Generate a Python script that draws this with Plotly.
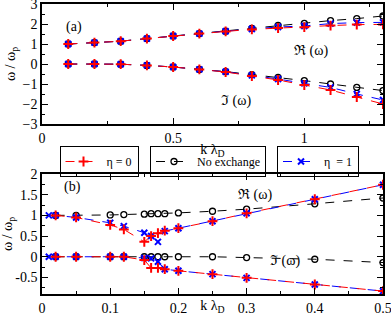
import plotly.graph_objects as go
from plotly.subplots import make_subplots

# ---------- Panel (a) data ----------
k_a = [0.1, 0.2, 0.3, 0.4, 0.5, 0.6, 0.7, 0.8, 0.9, 1.0, 1.1, 1.2, 1.3]
re_eta0_a = [1.0, 1.07, 1.14, 1.27, 1.4, 1.52, 1.63, 1.73, 1.8, 1.84, 1.92, 1.97, 1.98]
im_eta0_a = [0.0, 0.0, -0.01, -0.07, -0.15, -0.27, -0.4, -0.6, -0.8, -1.05, -1.3, -1.65, -2.0]
re_noex_a = [1.0, 1.07, 1.14, 1.27, 1.4, 1.52, 1.64, 1.78, 1.93, 2.03, 2.17, 2.27, 2.4]
im_noex_a = [0.0, 0.0, -0.01, -0.07, -0.15, -0.27, -0.38, -0.53, -0.67, -0.83, -1.0, -1.17, -1.33]
re_eta1_a = [1.0, 1.07, 1.14, 1.27, 1.4, 1.52, 1.64, 1.75, 1.85, 1.9, 2.02, 2.07, 2.08]
im_eta1_a = [0.0, 0.0, -0.01, -0.07, -0.15, -0.27, -0.39, -0.57, -0.75, -0.97, -1.17, -1.5, -1.8]

# ---------- Panel (b) data ----------
k_eta0_b = [0.02, 0.05, 0.1, 0.12, 0.15, 0.16, 0.17, 0.18, 0.2, 0.25, 0.3, 0.4, 0.5]
re_eta0_b = [1.0, 0.95, 0.77, 0.66, 0.36, 0.5, 0.57, 0.63, 0.69, 0.86, 1.05, 1.39, 1.74]
im_eta0_b = [0.0, 0.0, 0.0, 0.0, -0.08, -0.27, -0.27, -0.3, -0.34, -0.42, -0.51, -0.67, -0.83]
k_eta1_b = [0.01, 0.02, 0.05, 0.1, 0.12, 0.15, 0.16, 0.17, 0.18, 0.2, 0.25, 0.3, 0.4, 0.5]
re_eta1_b = [1.0, 1.0, 0.95, 0.82, 0.74, 0.58, 0.5, 0.36, 0.62, 0.69, 0.86, 1.05, 1.39, 1.74]
im_eta1_b = [0.0, 0.0, 0.0, 0.0, 0.0, -0.03, -0.04, -0.12, -0.3, -0.34, -0.42, -0.51, -0.67, -0.83]
k_noex_b = [0.02, 0.05, 0.1, 0.12, 0.15, 0.16, 0.17, 0.18, 0.2, 0.25, 0.3, 0.4, 0.5]
re_noex_b = [1.0, 1.0, 1.01, 1.02, 1.03, 1.04, 1.04, 1.04, 1.06, 1.1, 1.15, 1.28, 1.42]
im_noex_b = [0.0, 0.0, 0.0, 0.0, 0.0, 0.0, 0.0, 0.0, 0.0, 0.0, -0.02, -0.06, -0.14]

FONT = "Liberation Serif"
RED = "#ff0000"
BLUE = "#0000ff"
BLACK = "#000000"

fig = make_subplots(rows=2, cols=1, vertical_spacing=0.0)

series = [
    ("No exchange", BLACK, "circle-open", 6, 1.3, "legend2"),
    ("\u03b7  = 1", BLUE, "x-thin", 6, 2.0, "legend3"),
    ("\u03b7 = 0", RED, "cross-thin", 7, 2.0, "legend"),
]
data_a = {
    "No exchange": (k_a, re_noex_a, im_noex_a),
    "\u03b7  = 1": (k_a, re_eta1_a, im_eta1_a),
    "\u03b7 = 0": (k_a, re_eta0_a, im_eta0_a),
}
data_b = {
    "No exchange": (k_noex_b, re_noex_b, im_noex_b),
    "\u03b7  = 1": (k_eta1_b, re_eta1_b, im_eta1_b),
    "\u03b7 = 0": (k_eta0_b, re_eta0_b, im_eta0_b),
}

for row, data in ((1, data_a), (2, data_b)):
    for name, col, sym, sz, lw, leg in series:
        k, re, im = data[name]
        for j, vals in enumerate((re, im)):
            fig.add_trace(go.Scatter(
                x=k, y=vals, mode="lines+markers", name=name,
                line=dict(color=col, width=1, dash="dash"),
                marker=dict(symbol=sym, size=sz, color=col,
                            line=dict(color=col, width=lw)),
                showlegend=(row == 1 and j == 0), legend=leg,
            ), row=row, col=1)

axis_common = dict(showline=True, linecolor="black", linewidth=1.5, mirror="allticks",
                   ticks="inside", ticklen=6, tickwidth=1, tickcolor="black",
                   showgrid=False, zeroline=False, automargin=False,
                   ticklabeloverflow="allow",
                   tickfont=dict(family=FONT, size=14, color="black"))

fig.update_xaxes(**axis_common)
fig.update_yaxes(**axis_common)

TF = dict(family=FONT, size=14, color="black")
fig.update_xaxes(range=[0, 1.3], tickvals=[0, 0.5, 1], ticktext=["0", "0.5", "1"],
                 minor=dict(dtick=0.25, tick0=0, ticks="inside", ticklen=3, tickcolor="black"),
                 title=dict(text="k \u03bb<sub>D</sub>", standoff=0, font=TF),
                 row=1, col=1)
fig.update_yaxes(range=[-3, 3], tickvals=[-3, -2, -1, 0, 1, 2, 3],
                 minor=dict(dtick=0.5, tick0=0, ticks="inside", ticklen=3, tickcolor="black"),
                 title=dict(text="\u03c9 / \u03c9<sub>p</sub>", standoff=4, font=TF),
                 row=1, col=1)
fig.update_xaxes(range=[0, 0.5], tickvals=[0, 0.1, 0.2, 0.3, 0.4, 0.5],
                 ticktext=["0", "0.1", "0.2", "0.3", "0.4", "0.5"],
                 minor=dict(dtick=0.05, tick0=0, ticks="inside", ticklen=3, tickcolor="black"),
                 title=dict(text="k \u03bb<sub>D</sub>", standoff=0, font=TF),
                 row=2, col=1)
fig.update_yaxes(range=[-0.9, 2], tickvals=[-0.5, 0, 0.5, 1, 1.5, 2],
                 ticktext=["-0.5", "0", "0.5", "1", "1.5", "2"],
                 minor=dict(dtick=0.25, tick0=0, ticks="inside", ticklen=3, tickcolor="black"),
                 title=dict(text="\u03c9 / \u03c9<sub>p</sub>", standoff=4, font=TF),
                 row=2, col=1)

W, H = 391, 315
ML, MR, MT, MB = 42, 8, 4, 21
ph = H - MT - MB
fig.update_layout(
    xaxis=dict(domain=[0, 1]), xaxis2=dict(domain=[0, 1]),
    yaxis=dict(domain=[(H - MB - 124) / ph, 1.0]),
    yaxis2=dict(domain=[0.0, (H - MB - 174) / ph]),
)

def lg(xpx):
    return dict(x=(xpx - ML) / (W - ML - MR), y=(H - MB - 146) / ph,
                xanchor="center", yanchor="top", bgcolor="rgba(0,0,0,0)",
                bordercolor="black", borderwidth=1,
                font=dict(family=FONT, size=12, color="black"),
                itemwidth=36, tracegroupgap=0)

fig.update_layout(
    width=W, height=H, template="none",
    paper_bgcolor="white", plot_bgcolor="white",
    margin=dict(l=ML, r=MR, t=MT, b=MB, pad=0),
    font=dict(family=FONT, size=14, color="black"),
    legend=lg(99), legend2=lg(208), legend3=lg(318),
)

def ann_plot(xpx, ypx, text, size=14):
    fig.add_annotation(x=(xpx - ML) / (W - ML - MR), y=(H - MB - ypx) / ph,
                       xref="paper", yref="paper", text=text, showarrow=False,
                       font=dict(family=FONT, size=size, color="black"))

ann_plot(64, 17, "(a)")
ann_plot(62, 187, "(b)")
ann_plot(330, 41, "\u211c (\u03c9)")
ann_plot(236, 91, "\u2111 (\u03c9)")
ann_plot(274, 195, "\u211c (\u03c9)")
ann_plot(302, 271, "\u2111 (\u03c9)")

fig.write_html("out.html", config={"displayModeBar": False},
               post_script="document.body.style.margin='0px';document.body.style.overflow='hidden';")
